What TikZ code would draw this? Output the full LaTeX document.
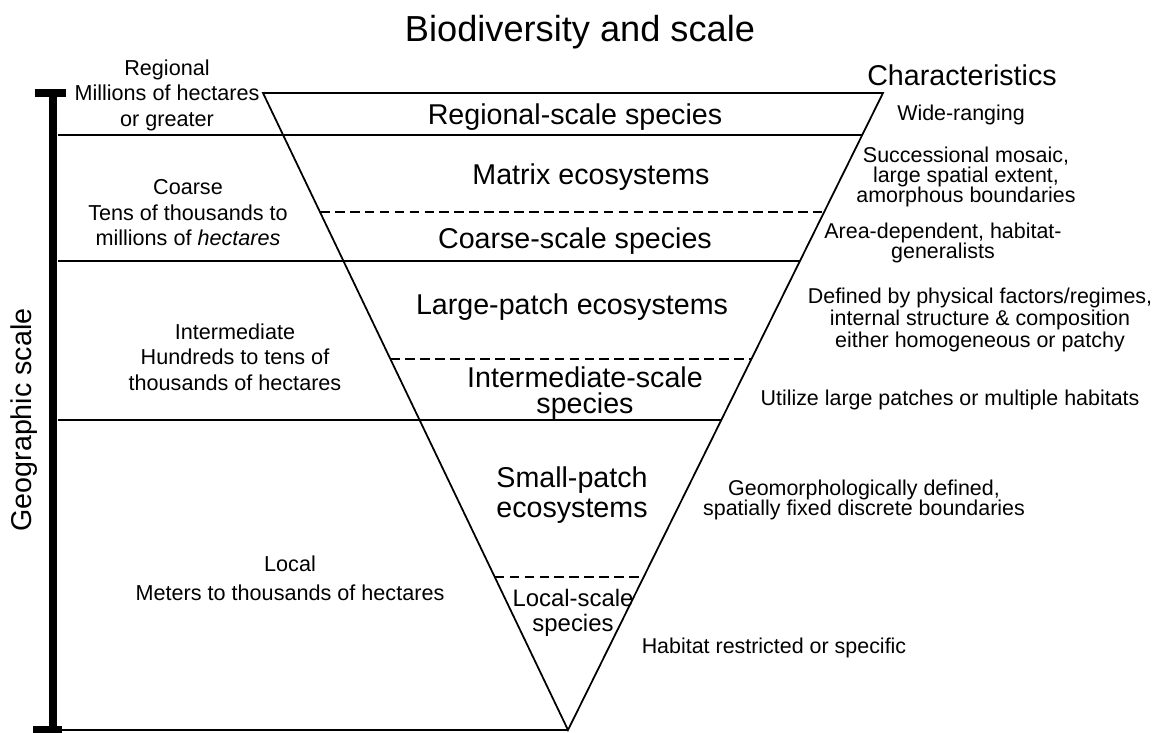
\documentclass[tikz,border=0pt]{standalone}
\usepackage{fontspec}
\setmainfont{Liberation Sans}
\usetikzlibrary{calc}

\tikzset{
	band/.style={line width=1pt},
	split/.style={line width=1pt, dash pattern=on 5.5pt off 3pt},
	bigtxt/.style={font=\fontsize{16.3}{13}\selectfont, align=center, inner sep=0pt},
	sidetxt/.style={font=\fontsize{12.3}{14.5}\selectfont, align=center, inner sep=0pt},
	chartxt/.style={font=\fontsize{12.2}{11.6}\selectfont, align=center, inner sep=0pt},
}

\begin{document}
\begin{tikzpicture}[x=0.02cm, y=-0.02cm]
		\useasboundingbox (0,0) rectangle (1161,733);

		\coordinate (tl) at (263,93);
		\coordinate (tr) at (883,93);
		\coordinate (apex) at (568,730);

		\node[inner sep=0pt] (title) at (580,32) {\fontsize{20.6}{24}\selectfont Biodiversity and scale};

		\draw[band] (tl) -- (tr) -- (apex) -- cycle;
		\draw[band] (58,135) -- ($(tr)!0.0659!(apex)$);
		\draw[band] (58,261) -- ($(tr)!0.2637!(apex)$);
		\draw[band] (58,420) -- ($(tr)!0.5133!(apex)$);
		\draw[split] ($(tl)!0.1868!(apex)$) -- ($(tr)!0.1868!(apex)$);
		\draw[split] ($(tl)!0.4176!(apex)$) -- ($(tr)!0.4176!(apex)$);
		\draw[split] ($(tl)!0.7598!(apex)$) -- ($(tr)!0.7598!(apex)$);

		\draw[line width=4pt] (53,93) -- (53,731);
		\draw[line width=4pt] (35,93) -- (66,93);
		\draw[line width=4pt] (33,730) -- (62,730);
		\draw[band] (62,730) -- (apex);

		\node[bigtxt, rotate=90] (geoscale) at (24,420) {Geographic scale};

		\node[sidetxt] (regional) at (167,95) {Regional\\Millions of hectares\\or greater};
		\node[sidetxt] (coarse) at (188,213) {Coarse\\Tens of thousands to\\millions of \textit{hectares}};
		\node[sidetxt] (interm) at (235,357) {Intermediate\\Hundreds to tens of\\thousands of hectares};
		\node[sidetxt, font=\fontsize{12.3}{16.5}\selectfont] (local) at (290,578) {Local\\Meters to thousands of hectares};

		\node[bigtxt] (regsp) at (575,117) {Regional-scale species};
		\node[bigtxt] (matrix) at (591,177) {Matrix ecosystems};
		\node[bigtxt] (coarsesp) at (575,241) {Coarse-scale species};
		\node[bigtxt] (largep) at (572,307) {Large-patch ecosystems};
		\node[bigtxt, font=\fontsize{16.3}{14.8}\selectfont] (intersp) at (585,393) {Intermediate-scale\\species};
		\node[bigtxt, font=\fontsize{16.3}{17}\selectfont] (smallp) at (572,495) {Small-patch\\ecosystems};
		\node[bigtxt, font=\fontsize{13.6}{14.2}\selectfont] (localsp) at (573,613) {Local-scale\\species};

		\node[bigtxt] (charact) at (962,75) {Characteristics};
		\node[chartxt] (widerange) at (961,115) {Wide-ranging};
		\node[chartxt] (mosaic) at (966,177) {Successional mosaic,\\large spatial extent,\\amorphous boundaries};
		\node[chartxt] (areadep) at (943,243) {Area-dependent, habitat-\\generalists};
		\node[chartxt, font=\fontsize{12.2}{12.5}\selectfont] (physical) at (980,320) {Defined by physical factors/regimes,\\internal structure \& composition\\either homogeneous or patchy};
		\node[chartxt] (utilize) at (950,400) {Utilize large patches or multiple habitats};
		\node[chartxt] (geomorph) at (864,500) {Geomorphologically defined,\\spatially fixed discrete boundaries};
		\node[chartxt] (habitat) at (774,648) {Habitat restricted or specific};
	\end{tikzpicture}
\end{document}
